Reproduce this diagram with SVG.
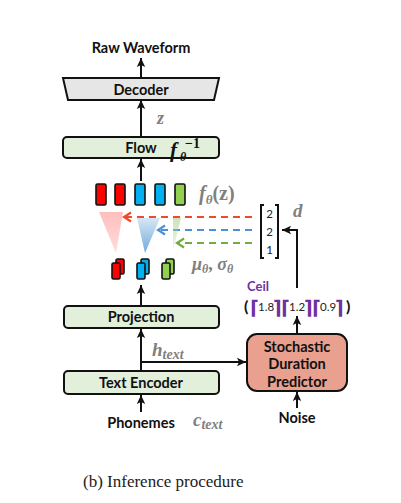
<svg xmlns="http://www.w3.org/2000/svg" width="401" height="503" viewBox="0 0 401 503">
<style>
.lbl{font-family:Lato,"Liberation Sans",sans-serif;font-weight:bold;font-size:14.5px;fill:#111;text-anchor:middle}
.box{fill:#e2efda;stroke:#111;stroke-width:2}
.math{font-family:"Liberation Serif","DejaVu Serif",serif;font-weight:bold;font-style:italic;fill:#808080}
.ln{stroke:#111;stroke-width:2;fill:none}
.blk{stroke:#111;stroke-width:1.6}
.num{font-family:Lato,"Liberation Sans",sans-serif;font-size:11.5px;fill:#222}
.ceil{font-family:"DejaVu Sans",sans-serif;font-weight:bold;font-size:19px;fill:#7030a0}
</style>
<defs>
<marker id="ah" markerUnits="userSpaceOnUse" markerWidth="10" markerHeight="10" refX="9" refY="5" orient="auto">
<path d="M0,0.8 L9,5 L0,9.2 L2,5 Z" fill="#111"/>
</marker>
<marker id="ar" markerUnits="userSpaceOnUse" markerWidth="12" markerHeight="12" refX="9" refY="6" orient="auto">
<path d="M2,1.5 L9,6 L2,10.5" fill="none" stroke="#ef4b2a" stroke-width="2.2"/>
</marker>
<marker id="ab" markerUnits="userSpaceOnUse" markerWidth="12" markerHeight="12" refX="9" refY="6" orient="auto">
<path d="M2,1.5 L9,6 L2,10.5" fill="none" stroke="#4f8fd8" stroke-width="2.2"/>
</marker>
<marker id="ag" markerUnits="userSpaceOnUse" markerWidth="12" markerHeight="12" refX="9" refY="6" orient="auto">
<path d="M2,1.5 L9,6 L2,10.5" fill="none" stroke="#6fae3e" stroke-width="2.2"/>
</marker>
<linearGradient id="gr" x1="0" y1="0" x2="0" y2="1">
<stop offset="0" stop-color="#ff8a8a" stop-opacity="0.55"/>
<stop offset="1" stop-color="#ff8a8a" stop-opacity="0.3"/>
</linearGradient>
<linearGradient id="gb" x1="0" y1="0" x2="0" y2="1">
<stop offset="0" stop-color="#5b9bd5" stop-opacity="0.25"/>
<stop offset="1" stop-color="#5b9bd5" stop-opacity="0.85"/>
</linearGradient>
<linearGradient id="gg" x1="0" y1="0" x2="0" y2="1">
<stop offset="0" stop-color="#a9d18e" stop-opacity="0.6"/>
<stop offset="1" stop-color="#a9d18e" stop-opacity="0.2"/>
</linearGradient>
</defs>
<rect width="401" height="503" fill="#fff"/>

<g id="connectors">
<line class="ln" x1="141" y1="78" x2="141" y2="58" marker-end="url(#ah)"/>
<line class="ln" x1="141" y1="137" x2="141" y2="100" marker-end="url(#ah)"/>
<line class="ln" x1="141" y1="181" x2="141" y2="159" marker-end="url(#ah)"/>
<line class="ln" x1="141" y1="306" x2="141" y2="285" marker-end="url(#ah)"/>
<line class="ln" x1="141" y1="371" x2="141" y2="329" marker-end="url(#ah)"/>
<line class="ln" x1="141" y1="362" x2="246" y2="362" marker-end="url(#ah)"/>
<line class="ln" x1="141" y1="412" x2="141" y2="395" marker-end="url(#ah)"/>
<line class="ln" x1="297" y1="408" x2="297" y2="392" marker-end="url(#ah)"/>
<line class="ln" x1="297" y1="334" x2="297" y2="316" marker-end="url(#ah)"/>
<path class="ln" d="M297,288 V230 H282" marker-end="url(#ah)"/>
<line x1="252" y1="217" x2="124" y2="217" stroke="#ef4b2a" stroke-width="2.2" stroke-dasharray="7,5" marker-end="url(#ar)"/>
<line x1="252" y1="230" x2="158" y2="230" stroke="#4f8fd8" stroke-width="2.2" stroke-dasharray="7,5" marker-end="url(#ab)"/>
<line x1="252" y1="243" x2="177" y2="243" stroke="#6fae3e" stroke-width="2.2" stroke-dasharray="7,5" marker-end="url(#ag)"/>
</g>

<g id="raw-waveform"><text class="lbl" x="141" y="53">Raw Waveform</text></g>

<g id="decoder">
<polygon points="63,78 219,78 214,100 68,100" fill="#e7e6e6" stroke="#111" stroke-width="2"/>
<text class="lbl" x="141" y="95">Decoder</text>
</g>
<g id="z-label"><text class="math" x="157" y="124" font-size="18" font-style="normal">z</text></g>

<g id="flow">
<rect class="box" x="63" y="137" width="156" height="21" rx="4"/>
<text class="lbl" x="141" y="153">Flow</text>
<text x="170" y="157" font-family="Liberation Serif,serif" font-weight="bold" font-style="italic" font-size="21" fill="#111">f</text>
<text x="180" y="161" font-family="Liberation Serif,serif" font-weight="bold" font-style="italic" font-size="12" fill="#111">θ</text>
<text x="185" y="148" font-family="Liberation Serif,serif" font-weight="bold" font-size="14" fill="#111">−1</text>
</g>

<g id="f-theta-z">
<rect class="blk" x="96" y="184" width="10" height="21" rx="1.5" fill="#ff0000"/>
<rect class="blk" x="115" y="184" width="10" height="21" rx="1.5" fill="#ff0000"/>
<rect class="blk" x="135" y="184" width="10" height="21" rx="1.5" fill="#00b0f0"/>
<rect class="blk" x="155" y="184" width="10" height="21" rx="1.5" fill="#00b0f0"/>
<rect class="blk" x="175" y="184" width="10" height="21" rx="1.5" fill="#92d050"/>
<text class="math" x="199" y="200" font-size="20">f<tspan font-size="13" dy="4">θ</tspan><tspan dy="-4" font-style="normal">(z)</tspan></text>
</g>

<g id="expansion">
<polygon points="99,212 123,212 116,253" fill="url(#gr)"/>
<polygon points="137,218 160,218 145,253" fill="url(#gb)"/>
<polygon points="173,218 181,218 173,250" fill="url(#gg)"/>
</g>

<g id="mu-sigma">
<rect class="blk" x="116" y="259" width="8" height="15" rx="1.5" fill="#ff0000"/>
<rect class="blk" x="112" y="263" width="8" height="16" rx="1.5" fill="#ff0000"/>
<rect class="blk" x="141" y="259" width="8" height="15" rx="1.5" fill="#00b0f0"/>
<rect class="blk" x="137" y="263" width="8" height="16" rx="1.5" fill="#00b0f0"/>
<rect class="blk" x="166" y="259" width="8" height="15" rx="1.5" fill="#92d050"/>
<rect class="blk" x="162" y="263" width="8" height="16" rx="1.5" fill="#92d050"/>
<text class="math" x="192" y="270" font-size="18">μ<tspan font-size="12" dy="3">θ</tspan><tspan dy="-3" font-style="normal">, </tspan>σ<tspan font-size="12" dy="3">θ</tspan></text>
</g>

<g id="duration-vector">
<path d="M264,205 H261 V258 H264" fill="none" stroke="#111" stroke-width="2"/>
<path d="M275,205 H278 V258 H275" fill="none" stroke="#111" stroke-width="2"/>
<text class="num" x="269.5" y="218" text-anchor="middle">2</text>
<text class="num" x="269.5" y="236" text-anchor="middle">2</text>
<text class="num" x="269.5" y="254" text-anchor="middle">1</text>
<text class="math" x="293" y="217" font-size="19">d</text>
</g>

<g id="ceil">
<text x="247" y="291" font-family="Lato,'Liberation Sans',sans-serif" font-weight="bold" font-size="13" fill="#7030a0">Ceil</text>
<text x="244" y="312" font-family="Lato,'Liberation Sans',sans-serif" font-weight="bold" font-size="16" fill="#111">(</text>
<text class="ceil" x="250" y="314">⌈</text>
<text class="num" x="258" y="311">1.8</text>
<text class="ceil" x="273" y="314">⌉</text>
<text class="ceil" x="281" y="314">⌈</text>
<text class="num" x="289" y="311">1.2</text>
<text class="ceil" x="304" y="314">⌉</text>
<text class="ceil" x="312" y="314">⌈</text>
<text class="num" x="320" y="311">0.9</text>
<text class="ceil" x="335" y="314">⌉</text>
<text x="346" y="312" font-family="Lato,'Liberation Sans',sans-serif" font-weight="bold" font-size="16" fill="#111">)</text>
</g>

<g id="projection">
<rect class="box" x="64" y="306" width="155" height="22" rx="4"/>
<text class="lbl" x="141" y="322">Projection</text>
</g>

<g id="h-text"><text class="math" x="152" y="356" font-size="19">h<tspan font-size="14" dy="3">text</tspan></text></g>

<g id="text-encoder">
<rect class="box" x="64" y="371" width="155" height="23" rx="4"/>
<text class="lbl" x="141" y="388">Text Encoder</text>
</g>

<g id="phonemes">
<text class="lbl" x="141" y="428">Phonemes</text>
<text class="math" x="193" y="426" font-size="19">c<tspan font-size="14" dy="3">text</tspan></text>
</g>

<g id="sdp">
<rect x="247" y="334" width="100" height="57" rx="10" fill="#e9a08e" stroke="#111" stroke-width="2"/>
<text class="lbl" x="297" y="352">Stochastic</text>
<text class="lbl" x="297" y="369">Duration</text>
<text class="lbl" x="297" y="387">Predictor</text>
</g>

<g id="noise"><text class="lbl" x="297" y="423">Noise</text></g>

<text x="83" y="487" font-family="'Liberation Serif',serif" font-size="17" fill="#222">(b) Inference procedure</text>
</svg>
